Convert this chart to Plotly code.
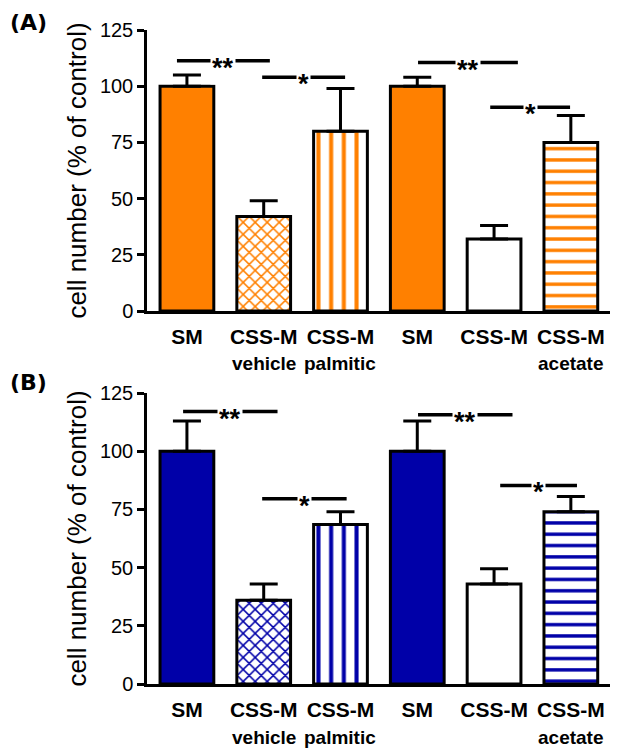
import plotly.graph_objects as go

# ---- data ----
tick_line1 = ["SM", "CSS-M", "CSS-M", "SM", "CSS-M", "CSS-M"]
tick_line2 = ["", "vehicle", "palmitic", "", "", "acetate"]
positions = [0, 1, 2, 3, 4, 5]

a_values = [100, 42, 80, 100, 32, 75]
a_errors = [5, 7, 19, 4, 6, 12]

b_values = [100, 36, 68.5, 100, 43, 74]
b_errors = [13, 7, 5.5, 13, 6.5, 6.5]

patterns = ["", "x", "|", "", "", "-"]
plain_white = [False, False, False, False, True, False]

# significance brackets: (x start, x end, y, label)
a_sig_x0 = [-0.13, 0.98, 3.01, 3.95]
a_sig_x1 = [1.08, 2.06, 4.31, 4.99]
a_sig_y = [111.3, 104, 110.5, 90.6]
a_sig_txt = ["**", "*", "**", "*"]

b_sig_x0 = [-0.05, 0.98, 3.01, 4.08]
b_sig_x1 = [1.18, 2.08, 4.24, 5.08]
b_sig_y = [117, 79.6, 115.7, 85.3]
b_sig_txt = ["**", "*", "**", "*"]

y_ticks = [0, 25, 50, 75, 100, 125]

ORANGE = "#FF8000"
BLUE = "#0000A8"

# page body adds an 8px margin; compensate so the picture lands where intended
OFF = 8
W, H = 625, 749


def px(v):
    return (v - OFF) / W


def py(v):
    return 1 - (v - OFF) / H


x_dom = [px(147), px(610)]
a_dom = [py(311), py(30)]
b_dom = [py(684), py(393)]

fig = go.Figure()


def add_panel(values, errors, color, xa, ya):
    marker_colors = ["white" if w else color for w in plain_white]
    fig.add_trace(go.Bar(
        x=positions, y=values,
        xaxis=xa, yaxis=ya,
        width=0.7,
        marker=dict(
            color=marker_colors,
            line=dict(color="black", width=3),
            pattern=dict(shape=patterns, bgcolor="white",
                         fgopacity=1,
                         size=[8, 8.5, 12.7, 8, 8, 11.3],
                         solidity=[0.3, 0.32, 0.32, 0.3, 0.3, 0.3],
                         fillmode="replace"),
        ),
        error_y=dict(type="data", array=errors, arrayminus=[0] * len(errors),
                     symmetric=False, color="black", thickness=3, width=14),
        showlegend=False,
    ))


add_panel(a_values, a_errors, ORANGE, "x", "y")
add_panel(b_values, b_errors, BLUE, "x2", "y2")


def add_sig(x0s, x1s, ys, txts, xr, yr):
    for x0, x1, y, t in zip(x0s, x1s, ys, txts):
        fig.add_shape(type="line", x0=x0, x1=x1, y0=y, y1=y, xref=xr, yref=yr,
                      line=dict(color="black", width=3.5), layer="above")
        fig.add_annotation(x=(x0 + x1) / 2, y=y, xref=xr, yref=yr, text="<b>" + t + "</b>",
                           showarrow=False, bgcolor="white",
                           font=dict(family="Liberation Sans", size=27, color="black"),
                           yshift=-7, borderpad=1, yanchor="middle")


add_sig(a_sig_x0, a_sig_x1, a_sig_y, a_sig_txt, "x", "y")
add_sig(b_sig_x0, b_sig_x1, b_sig_y, b_sig_txt, "x2", "y2")

# second line of category labels
for yr in ["y domain", "y2 domain"]:
    xr = "x" if yr == "y domain" else "x2"
    for p, t in zip(positions, tick_line2):
        if t:
            fig.add_annotation(x=p, y=0, xref=xr, yref=yr, text=t, showarrow=False,
                               yanchor="middle", yshift=-53,
                               font=dict(family="Liberation Sans", size=19, color="black",
                                         weight="bold"))

xaxis_common = dict(
    range=[-0.52, 5.51], tickvals=positions, ticktext=tick_line1,
    showline=True, linecolor="black", linewidth=2.5, ticks="",
    showgrid=False, zeroline=False, domain=x_dom, automargin=False,
    tickfont=dict(family="Liberation Sans", size=21, color="black", weight="bold"),
    ticklabelstandoff=5,
)
yaxis_common = dict(
    range=[0, 125], tickvals=y_ticks, showline=True, linecolor="black",
    linewidth=2.5, ticks="outside", ticklen=7, tickwidth=2.5, tickcolor="black",
    showgrid=False, zeroline=False, automargin=False,
    tickfont=dict(family="Liberation Sans", size=20, color="black"),
    title=dict(text="cell number (% of control)",
               font=dict(family="Liberation Sans", size=26, color="black"),
               standoff=6),
)

fig.update_layout(
    width=W, height=H,
    margin=dict(l=0, r=0, t=0, b=0, autoexpand=False),
    paper_bgcolor="white", plot_bgcolor="white",
    xaxis=dict(**xaxis_common, anchor="y"),
    yaxis=dict(**yaxis_common, domain=a_dom, anchor="x"),
    xaxis2=dict(**xaxis_common, anchor="y2"),
    yaxis2=dict(**yaxis_common, domain=b_dom, anchor="x2"),
)

for lbl, xx, yy in [("(A)", 8, 22), ("(B)", 8, 382)]:
    fig.add_annotation(x=px(xx), y=py(yy), xref="paper", yref="paper", text="<b>" + lbl + "</b>",
                       showarrow=False, xanchor="left", yanchor="middle",
                       font=dict(family="DejaVu Sans", size=22, color="black"))

fig.write_html("out.html")
